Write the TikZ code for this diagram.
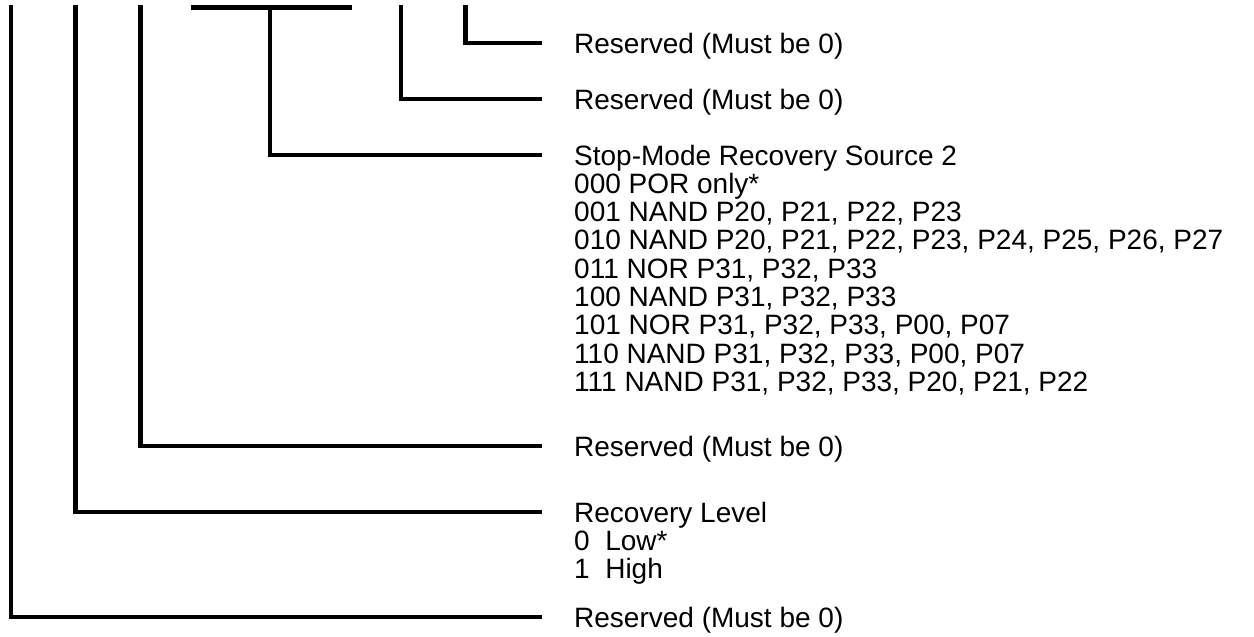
\documentclass[tikz,border=0pt]{standalone}
\usepackage{fontspec}
\setmainfont{Liberation Sans}
\begin{document}
\begin{tikzpicture}[x=1pt,y=-1pt,
  lbl/.style={anchor=west, inner sep=0pt, text height=20pt, text depth=0pt,
              font=\fontsize{28}{28.3}\selectfont},
  wire/.style={line width=4.6pt, line join=miter, line cap=butt},
  lead/.style={wire, shorten >=32pt}]
\useasboundingbox (0,0) rectangle (1254,637);

% label texts
\node[lbl] (b0) at (574,43)  {Reserved (Must be 0)};
\node[lbl] (b1) at (574,99)  {Reserved (Must be 0)};
\node[lbl] (src) at (574,155) {Stop-Mode Recovery Source 2};
\node[lbl] (s0) at (574,183.3) {000 POR only*};
\node[lbl] (s1) at (574,211.6) {001 NAND P20, P21, P22, P23};
\node[lbl] (s2) at (574,239.9) {010 NAND P20, P21, P22, P23, P24, P25, P26, P27};
\node[lbl] (s3) at (574,268.2) {011 NOR P31, P32, P33};
\node[lbl] (s4) at (574,296.5) {100 NAND P31, P32, P33};
\node[lbl] (s5) at (574,324.8) {101 NOR P31, P32, P33, P00, P07};
\node[lbl] (s6) at (574,353.1) {110 NAND P31, P32, P33, P00, P07};
\node[lbl] (s7) at (574,381.4) {111 NAND P31, P32, P33, P20, P21, P22};
\node[lbl] (b5) at (574,446) {Reserved (Must be 0)};
\node[lbl] (lvl) at (574,512) {Recovery Level};
\node[lbl] (l0) at (574,540.3) {0\ \ Low*};
\node[lbl] (l1) at (574,568.6) {1\ \ High};
\node[lbl] (b7) at (574,617) {Reserved (Must be 0)};

% bit positions along the top
\coordinate (t7) at (11,5.3);
\coordinate (t6) at (75.5,5.3);
\coordinate (t5) at (140.5,5.3);
\coordinate (barL) at (191,7.6);
\coordinate (barR) at (352,7.6);
\coordinate (barM) at (270,7.6);
\coordinate (t1) at (401,5.3);
\coordinate (t0) at (465.5,5.3);

% group bar for bits 4-2
\draw[wire] (barL) -- (barR);

% leaders
\draw[lead] (t0) |- (b0.west);
\draw[lead] (t1) |- (b1.west);
\draw[lead] (barM) |- (src.west);
\draw[lead] (t5) |- (b5.west);
\draw[lead] (t6) |- (lvl.west);
\draw[lead] (t7) |- (b7.west);
\end{tikzpicture}
\end{document}
